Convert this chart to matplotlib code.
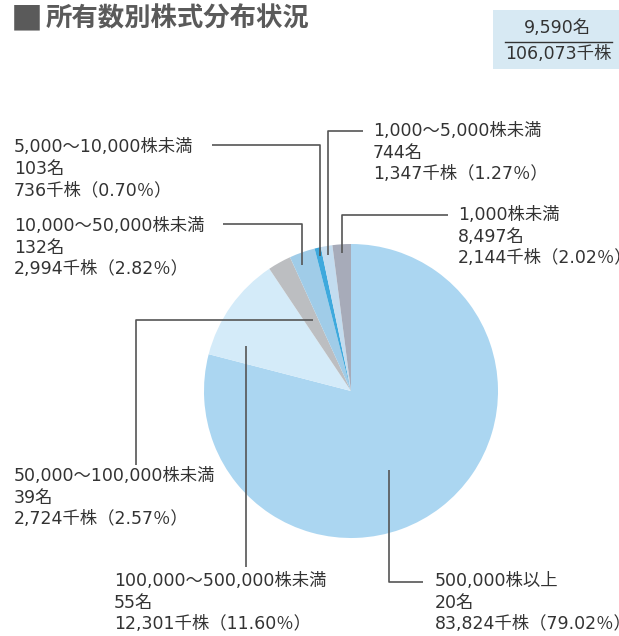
import matplotlib
matplotlib.use('agg')
from matplotlib import pyplot as plt
from matplotlib.patches import Rectangle

# wide latin digits, CJK glyphs fall back to Noto
plt.rcParams['font.family'] = ['DejaVu Sans', 'Noto Sans CJK JP']

# data (clockwise from 12 o'clock)
ranges = ['500,000株以上', '100,000～500,000株未満', '50,000～100,000株未満',
          '10,000～50,000株未満', '5,000～10,000株未満', '1,000～5,000株未満', '1,000株未満']
holders = ['20', '55', '39', '132', '103', '744', '8,497']
shares = [83824, 12301, 2724, 2994, 736, 1347, 2144]   # 千株
pcts = ['79.02', '11.60', '2.57', '2.82', '0.70', '1.27', '2.02']
colors = ['#abd6f1', '#d4ebf9', '#bcbec1', '#a0cce8', '#3ea9dd', '#c3dcef', '#a7abb9']
total_holders = '9,590名'
total_shares = '106,073千株'

W, H = 619, 636
TXT = '#333333'
FS = 12.5


def Y(y):
    # pixel row -> axes y
    return H - y


fig = plt.figure(figsize=(W / 100, H / 100), dpi=100)
ax = fig.add_axes([0, 0, 1, 1])

ax.pie(shares, colors=colors, startangle=90, counterclock=False,
       center=(351, Y(391)), radius=147, wedgeprops=dict(linewidth=0),
       frame=True)
ax.set_xlim(0, W)
ax.set_ylim(0, H)
ax.axis('off')

# title
ax.text(11, Y(20), '■', fontsize=23, color='#5a5a5a', va='center', ha='left',
        family=['Noto Sans CJK JP'])
ax.text(46, Y(19), '所有数別株式分布状況', fontsize=19, fontweight='bold',
        color='#5a5a5a', va='center', ha='left', family=['Noto Sans CJK JP'])

# total box
ax.add_patch(Rectangle((493, Y(69)), 126, 59, facecolor='#d7e9f3', edgecolor='none'))
ax.text(557, Y(28), total_holders, fontsize=FS, color=TXT, ha='center', va='center')
ax.plot([505, 612], [Y(42), Y(42)], color='#333333', lw=1)
ax.text(558, Y(54), total_shares, fontsize=FS, color=TXT, ha='center', va='center')

# label positions: (x, first line y) and leader polyline in pixels
label_pos = [(435, 581), (114, 581), (14, 476), (14, 226), (14, 147), (373, 131), (458, 215)]
leaders = [
    [(389, 470), (389, 582), (423, 582)],
    [(246, 346), (246, 567)],
    [(136, 465), (136, 320), (313, 320)],
    [(223, 224), (302, 224), (302, 265)],
    [(212, 145), (320, 145), (320, 256)],
    [(363, 131), (328, 131), (328, 255)],
    [(448, 215), (342, 215), (342, 253)],
]

for i in range(len(ranges)):
    x, y0 = label_pos[i]
    lines = [ranges[i], holders[i] + '名',
             '{:,}千株（{}％）'.format(shares[i], pcts[i])]
    for j, s in enumerate(lines):
        ax.text(x, Y(y0 + j * 21.5), s, fontsize=FS, color=TXT, ha='left', va='center')
    px = [p[0] for p in leaders[i]]
    py = [Y(p[1]) for p in leaders[i]]
    ax.plot(px, py, color='#555555', lw=1.2, solid_capstyle='butt')

fig.savefig('out.png', dpi=100)
